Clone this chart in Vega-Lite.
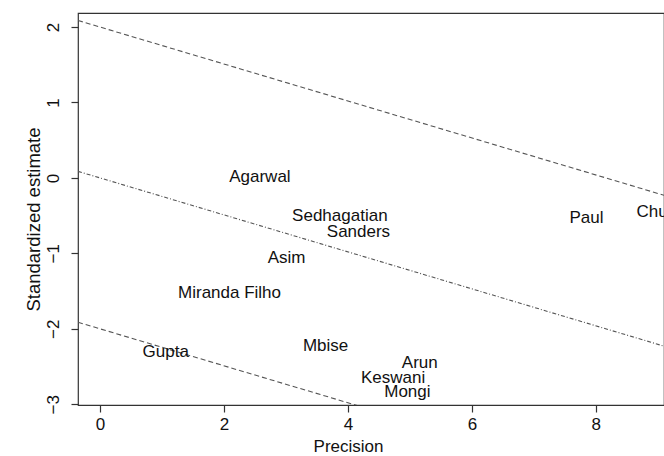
{
  "$schema": "https://vega.github.io/schema/vega-lite/v6.json",
  "autosize": "none",
  "width": 586,
  "height": 392,
  "padding": {"left": 78, "top": 13, "right": 0, "bottom": 51},
  "background": "white",
  "config": {
    "font": "Liberation Sans",
    "view": {"stroke": "#333", "strokeWidth": 1.2},
    "axis": {"grid": false, "domain": false, "tickColor": "#333", "tickSize": 7, "tickWidth": 1.2, "labelFont": "Liberation Sans", "titleFont": "Liberation Sans", "labelFontSize": 17, "titleFontSize": 17, "labelColor": "#111", "titleColor": "#111", "titleFontWeight": "normal"}
  },
  "datasets": {
    "studies": [
      {"study": "Agarwal", "precision": 2.58, "z": 0.01},
      {"study": "Sedhagatian", "precision": 3.87, "z": -0.5},
      {"study": "Sanders", "precision": 4.17, "z": -0.72},
      {"study": "Asim", "precision": 3.01, "z": -1.06},
      {"study": "Miranda Filho", "precision": 2.09, "z": -1.52},
      {"study": "Gupta", "precision": 1.06, "z": -2.31},
      {"study": "Mbise", "precision": 3.64, "z": -2.23},
      {"study": "Arun", "precision": 5.16, "z": -2.45},
      {"study": "Keswani", "precision": 4.73, "z": -2.65},
      {"study": "Mongi", "precision": 4.96, "z": -2.84},
      {"study": "Paul", "precision": 7.85, "z": -0.53},
      {"study": "Chung", "precision": 9.06, "z": -0.45}
    ],
    "lines": [
      {"line": "upper", "precision": -0.355, "z": 2.087},
      {"line": "upper", "precision": 9.1, "z": -0.23},
      {"line": "centre", "precision": -0.355, "z": 0.087},
      {"line": "centre", "precision": 9.1, "z": -2.23},
      {"line": "lower", "precision": -0.355, "z": -1.913},
      {"line": "lower", "precision": 9.1, "z": -4.23}
    ]
  },
  "encoding": {
    "x": {"field": "precision", "type": "quantitative", "title": "Precision",
      "scale": {"domain": [-0.355, 9.1], "nice": false, "zero": false},
      "axis": {"values": [0, 2, 4, 6, 8], "labelPadding": 4, "titleX": 270, "titleY": 46, "titleAlign": "center", "titleBaseline": "alphabetic"}},
    "y": {"field": "z", "type": "quantitative", "title": "Standardized estimate",
      "scale": {"domain": [-3.01, 2.186], "nice": false, "zero": false},
      "axis": {"values": [-3, -2, -1, 0, 1, 2], "labelAngle": -90, "labelAlign": "center", "labelBaseline": "alphabetic", "labelPadding": 13, "titleFontSize": 18.5, "titleX": -39, "titleY": 206, "titleAlign": "center", "titleBaseline": "alphabetic"}}
  },
  "layer": [
    {
      "data": {"name": "lines"},
      "mark": {"type": "line", "clip": true, "color": "#555", "strokeWidth": 1.1},
      "encoding": {
        "detail": {"field": "line"},
        "strokeDash": {"field": "line", "type": "nominal", "legend": null,
          "scale": {"domain": ["upper", "centre", "lower"], "range": [[5, 3], [4, 2, 1, 2], [5, 3]]}}
      }
    },
    {
      "data": {"name": "studies"},
      "mark": {"type": "text", "clip": true, "fontSize": 17, "color": "#111", "align": "center", "baseline": "middle"},
      "encoding": {"text": {"field": "study"}}
    }
  ]
}
